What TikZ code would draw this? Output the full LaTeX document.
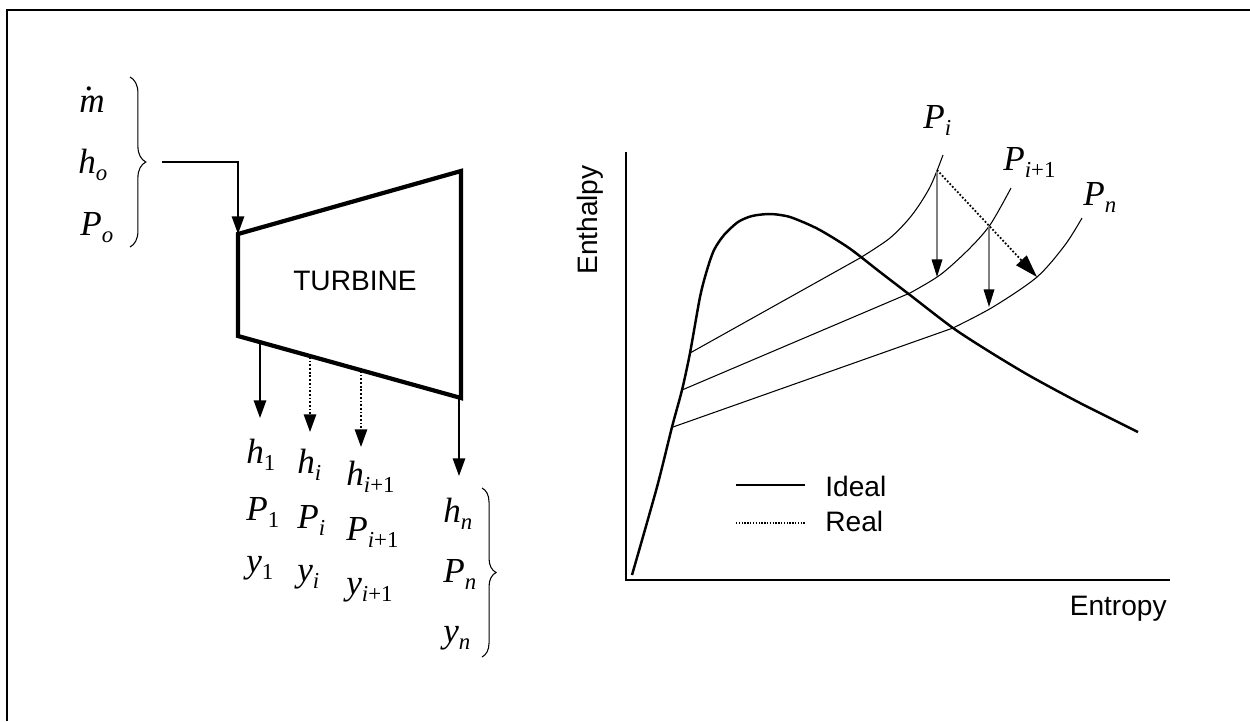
\documentclass[tikz,border=0pt]{standalone}
\usepackage{fontspec}
\setmainfont{Liberation Sans}
\newfontfamily\serf{Liberation Serif}
\usetikzlibrary{arrows.meta,decorations.pathreplacing}
\newcommand\stvar[2]{{\serf\itshape\fontsize{20}{24}\selectfont #1\raisebox{-4.5pt}{\fontsize{13}{15}\selectfont #2}}}
\newcommand\mdot{m\llap{\raisebox{.62em}{.}\kern.3em}}

\begin{document}
\begin{tikzpicture}[x=0.02cm,y=-0.02cm,
  sym/.style={anchor=base west,inner sep=0pt},
  txt/.style={inner sep=0pt,font=\fontsize{16}{19}\selectfont},
  arr/.style={-{Triangle[length=10pt,width=7pt]},line width=1pt},
  dotarr/.style={arr,dash pattern=on 1pt off 1.1pt},
  garr/.style={-{Triangle[length=10pt,width=6pt,color=black]},draw=gray,line width=.9pt},
  isobar/.style={line width=.6pt},
  brc/.style={decorate,decoration={brace,amplitude=9pt},line width=.6pt}]
\useasboundingbox (0,0) rectangle (1250,721);
\draw[line width=1.2pt] (7,721) -- (7,10) -- (1250,10);

\coordinate (tl) at (238,234);
\coordinate (tr) at (461,171);
\coordinate (br) at (461,398);
\coordinate (bl) at (238,336);
\draw[line width=2.4pt,line join=miter] (tl) -- (tr) -- (br) -- (bl) -- cycle;
\node[txt] (turb) at (355,281) {TURBINE};

\node[sym] (mflow) at (79,112) {\stvar{\mdot}{}};
\node[sym] (h0) at (78,173) {\stvar{h}{o}};
\node[sym] (P0) at (80,235) {\stvar{P}{o}};
\draw[brc] (130,77) -- (130,247);
\coordinate (in) at (162,162);
\draw[arr] (in) -| (tl);

\coordinate (o1) at (260,342);
\coordinate (e1) at (260,418);
\coordinate (oi) at (310,357);
\coordinate (ei) at (310,432);
\coordinate (oi1) at (361,371);
\coordinate (ei1) at (361,447);
\coordinate (on) at (459,398);
\coordinate (en) at (459,476);
\draw[arr] (o1) -- (e1);
\draw[dotarr] (oi) -- (ei);
\draw[dotarr] (oi1) -- (ei1);
\draw[arr] (on) -- (en);

\node[sym] (h1) at (246,463) {\stvar{h}{\upshape 1}};
\node[sym] (P1) at (246,520) {\stvar{P}{\upshape 1}};
\node[sym] (y1) at (246,572) {\stvar{y}{\upshape 1}};
\node[sym] (hi) at (297,473) {\stvar{h}{i}};
\node[sym] (Pi) at (297,528) {\stvar{P}{i}};
\node[sym] (yi) at (297,581) {\stvar{y}{i}};
\node[sym] (hi1) at (346,485) {\stvar{h}{i\upshape+1}};
\node[sym] (Pi1) at (346,540) {\stvar{P}{i\upshape+1}};
\node[sym] (yi1) at (346,594) {\stvar{y}{i\upshape+1}};
\node[sym] (hn) at (443,522) {\stvar{h}{n}};
\node[sym] (Pn) at (443,582) {\stvar{P}{n}};
\node[sym] (yn) at (443,642) {\stvar{y}{n}};
\draw[brc,decoration={amplitude=8pt}] (482,488) -- (482,657);

\coordinate (ytop) at (626,152);
\coordinate (orig) at (626,580);
\coordinate (xend) at (1170,580);
\draw[line width=.8pt] (ytop) -- (orig) -- (xend);
\node[txt,rotate=90,anchor=base] (enth) at (597,220) {Enthalpy};
\node[txt,anchor=base east] (entr) at (1167,615) {Entropy};

\draw[line width=1.4pt] plot[smooth,tension=.45] coordinates {(632,575) (657,487) (672,427) (682,390) (690,353) (700,297) (707,270) (714,250) (724,235) (738,222) (752,216) (770,214) (790,217) (818,229) (849,248) (880,272) (910,295) (953,328) (990,352) (1030,376) (1080,403) (1138,432)};

\draw[isobar] (690,353) -- plot[smooth] coordinates {(860,258) (890,238) (912,215) (930,187) (943,155)};
\draw[isobar] (682,390) -- plot[smooth] coordinates {(910,293) (940,275) (968,250) (990,225) (1011,188)};
\draw[isobar] (673,427) -- plot[smooth] coordinates {(953,328) (993,307) (1037,277) (1065,245) (1082,218)};

\coordinate (Ai) at (937,170);
\coordinate (Bi) at (937,277);
\coordinate (Ai1) at (989,226);
\coordinate (Bi1) at (989,307);
\coordinate (Cn) at (1037,277);
\draw[garr] (Ai) -- (Bi);
\draw[garr] (Ai1) -- (Bi1);
\draw[dotarr,-{Triangle[length=13pt,width=8pt]}] (Ai) -- (Cn);

\node[sym] (lPi) at (923,128) {\stvar{P}{i}};
\node[sym] (lPi1) at (1003,170) {\stvar{P}{i\upshape+1}};
\node[sym] (lPn) at (1083,205) {\stvar{P}{n}};

\coordinate (l1a) at (736,485);
\coordinate (l1b) at (805,485);
\coordinate (l2a) at (736,523);
\coordinate (l2b) at (805,523);
\draw[line width=1pt] (l1a) -- (l1b);
\draw[line width=.8pt,dash pattern=on .8pt off .8pt] (l2a) -- (l2b);
\node[txt,anchor=base west] (ideal) at (825,496) {Ideal};
\node[txt,anchor=base west] (real) at (825,531) {Real};
\end{tikzpicture}
\end{document}
